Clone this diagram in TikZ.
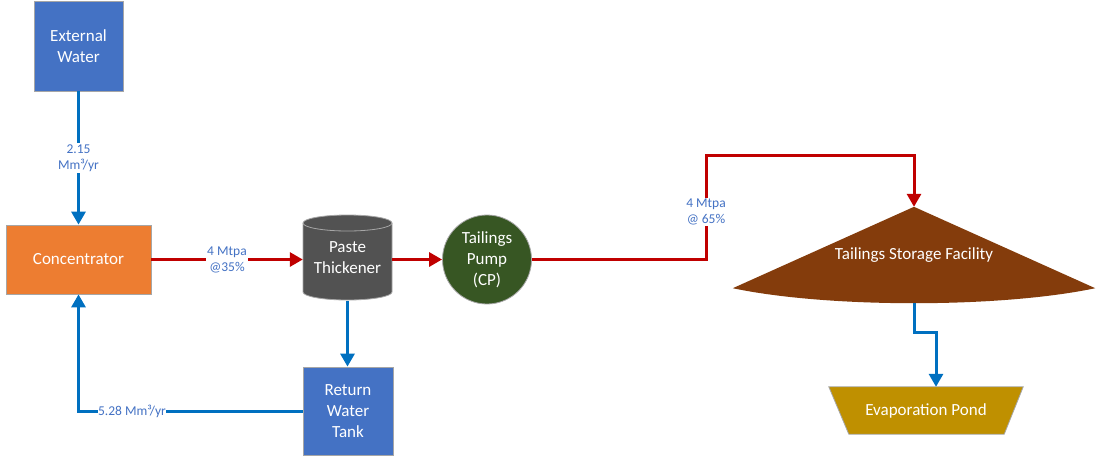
\documentclass[tikz,border=0pt]{standalone}
\usepackage{fontspec}
\setmainfont{Carlito}
\usetikzlibrary{arrows.meta,backgrounds}
\definecolor{boxblue}{HTML}{4472C4}
\definecolor{concorange}{HTML}{ED7D31}
\definecolor{flowblue}{HTML}{0070C0}
\definecolor{flowred}{HTML}{C00000}
\definecolor{thickgray}{HTML}{525252}
\definecolor{pumpgreen}{HTML}{375623}
\definecolor{tsfbrown}{HTML}{843C0C}
\definecolor{pondgold}{HTML}{BF9000}
\definecolor{labelblue}{HTML}{4472C4}
\definecolor{edgegray}{HTML}{A6A6A6}
\begin{document}
\begin{tikzpicture}[x=1pt,y=-1pt,
  unit/.style={draw=edgegray, line width=0.8pt, text=white, align=center, inner sep=0pt,
    font=\fontsize{17}{21}\selectfont},
  ghost/.style={inner sep=0pt, text=white, align=center, font=\fontsize{17}{21}\selectfont},
  flow/.style={line width=3pt, -{Triangle[length=13pt,width=14pt]}},
  water/.style={flow, draw=flowblue},
  slurry/.style={flow, draw=flowred},
  qty/.style={fill=white, text=labelblue, align=center, inner sep=1pt,
    font=\fontsize{13.5}{16.5}\selectfont}]

% canvas
\begin{scope}[on background layer]
  \fill[white] (0,0) rectangle (1097,456);
\end{scope}
\useasboundingbox (0,0) rectangle (1097,456);

% process units
\node[unit, fill=boxblue, minimum width=89pt, minimum height=90pt] (ext) at (78.5,46) {External\\Water};
\node[unit, fill=concorange, minimum width=145pt, minimum height=69pt] (conc) at (78.5,259.5) {Concentrator};

% paste thickener (cylinder)
\fill[thickgray] (303,223) -- (303,292)
  arc[start angle=180, end angle=360, x radius=44.5pt, y radius=8pt] -- (392,223)
  arc[start angle=0, end angle=180, x radius=44.5pt, y radius=8pt] -- cycle;
\draw[edgegray, line width=0.8pt] (303,223) -- (303,292)
  arc[start angle=180, end angle=360, x radius=44.5pt, y radius=8pt] -- (392,223)
  arc[start angle=0, end angle=180, x radius=44.5pt, y radius=8pt] -- cycle;
\draw[edgegray, line width=0.8pt] (303,223)
  arc[start angle=180, end angle=360, x radius=44.5pt, y radius=8pt];
\node[ghost, minimum width=89pt, minimum height=85pt] (pt) at (347.5,258) {Paste\\Thickener};

\node[unit, circle, fill=pumpgreen, minimum size=89pt] (pump) at (487,259.5) {Tailings\\Pump\\(CP)};
\node[unit, fill=boxblue, minimum width=90pt, minimum height=88pt] (rwt) at (348,411) {Return\\Water\\Tank};

% tailings storage facility and evaporation pond
\node[ghost, minimum width=362pt, minimum height=96pt] (tsf) at (914,255) {Tailings Storage Facility};
\node[ghost, minimum width=194pt, minimum height=47pt] (pond) at (926,410.5) {Evaporation Pond};
\begin{scope}[on background layer]
  \fill[tsfbrown] (tsf.north) -- ([yshift=15pt]tsf.south east)
    .. controls ([xshift=-95pt,yshift=-5pt]tsf.south east) and ([xshift=95pt,yshift=-5pt]tsf.south west)
    .. ([yshift=15pt]tsf.south west) -- cycle;
  \filldraw[fill=pondgold, draw=edgegray, line width=0.8pt] (pond.north west) -- (pond.north east)
    -- ([xshift=-19pt]pond.south east) -- ([xshift=20pt]pond.south west) -- cycle;
\end{scope}

% flows
\draw[water] (ext) -- (conc);
\node[qty] (q1) at (78.5,158) {2.15\\Mm³/yr};

\draw[slurry] (conc.east) -- (conc.east -| pt.west);
\node[qty] (q2) at (227,260) {4 Mtpa\\@35\%};

\draw[slurry] (pt.east |- pump.west) -- (pump.west);

\coordinate (bend) at (706,155);
\draw[slurry] (pump.east) -| (bend) -| (tsf.north);
\node[qty] (q3) at (706,212) {4 Mtpa\\@ 65\%};

\draw[water] (pt.south) -- (pt.south |- rwt.north);
\draw[water] (rwt.west) -| (conc.south);
\node[qty, inner sep=0.5pt] (q4) at (132,411) {5.28 Mm³/yr};

\draw[water] (tsf.south) -- ++(0,29) -| ([xshift=10pt]pond.north);
\end{tikzpicture}
\end{document}
